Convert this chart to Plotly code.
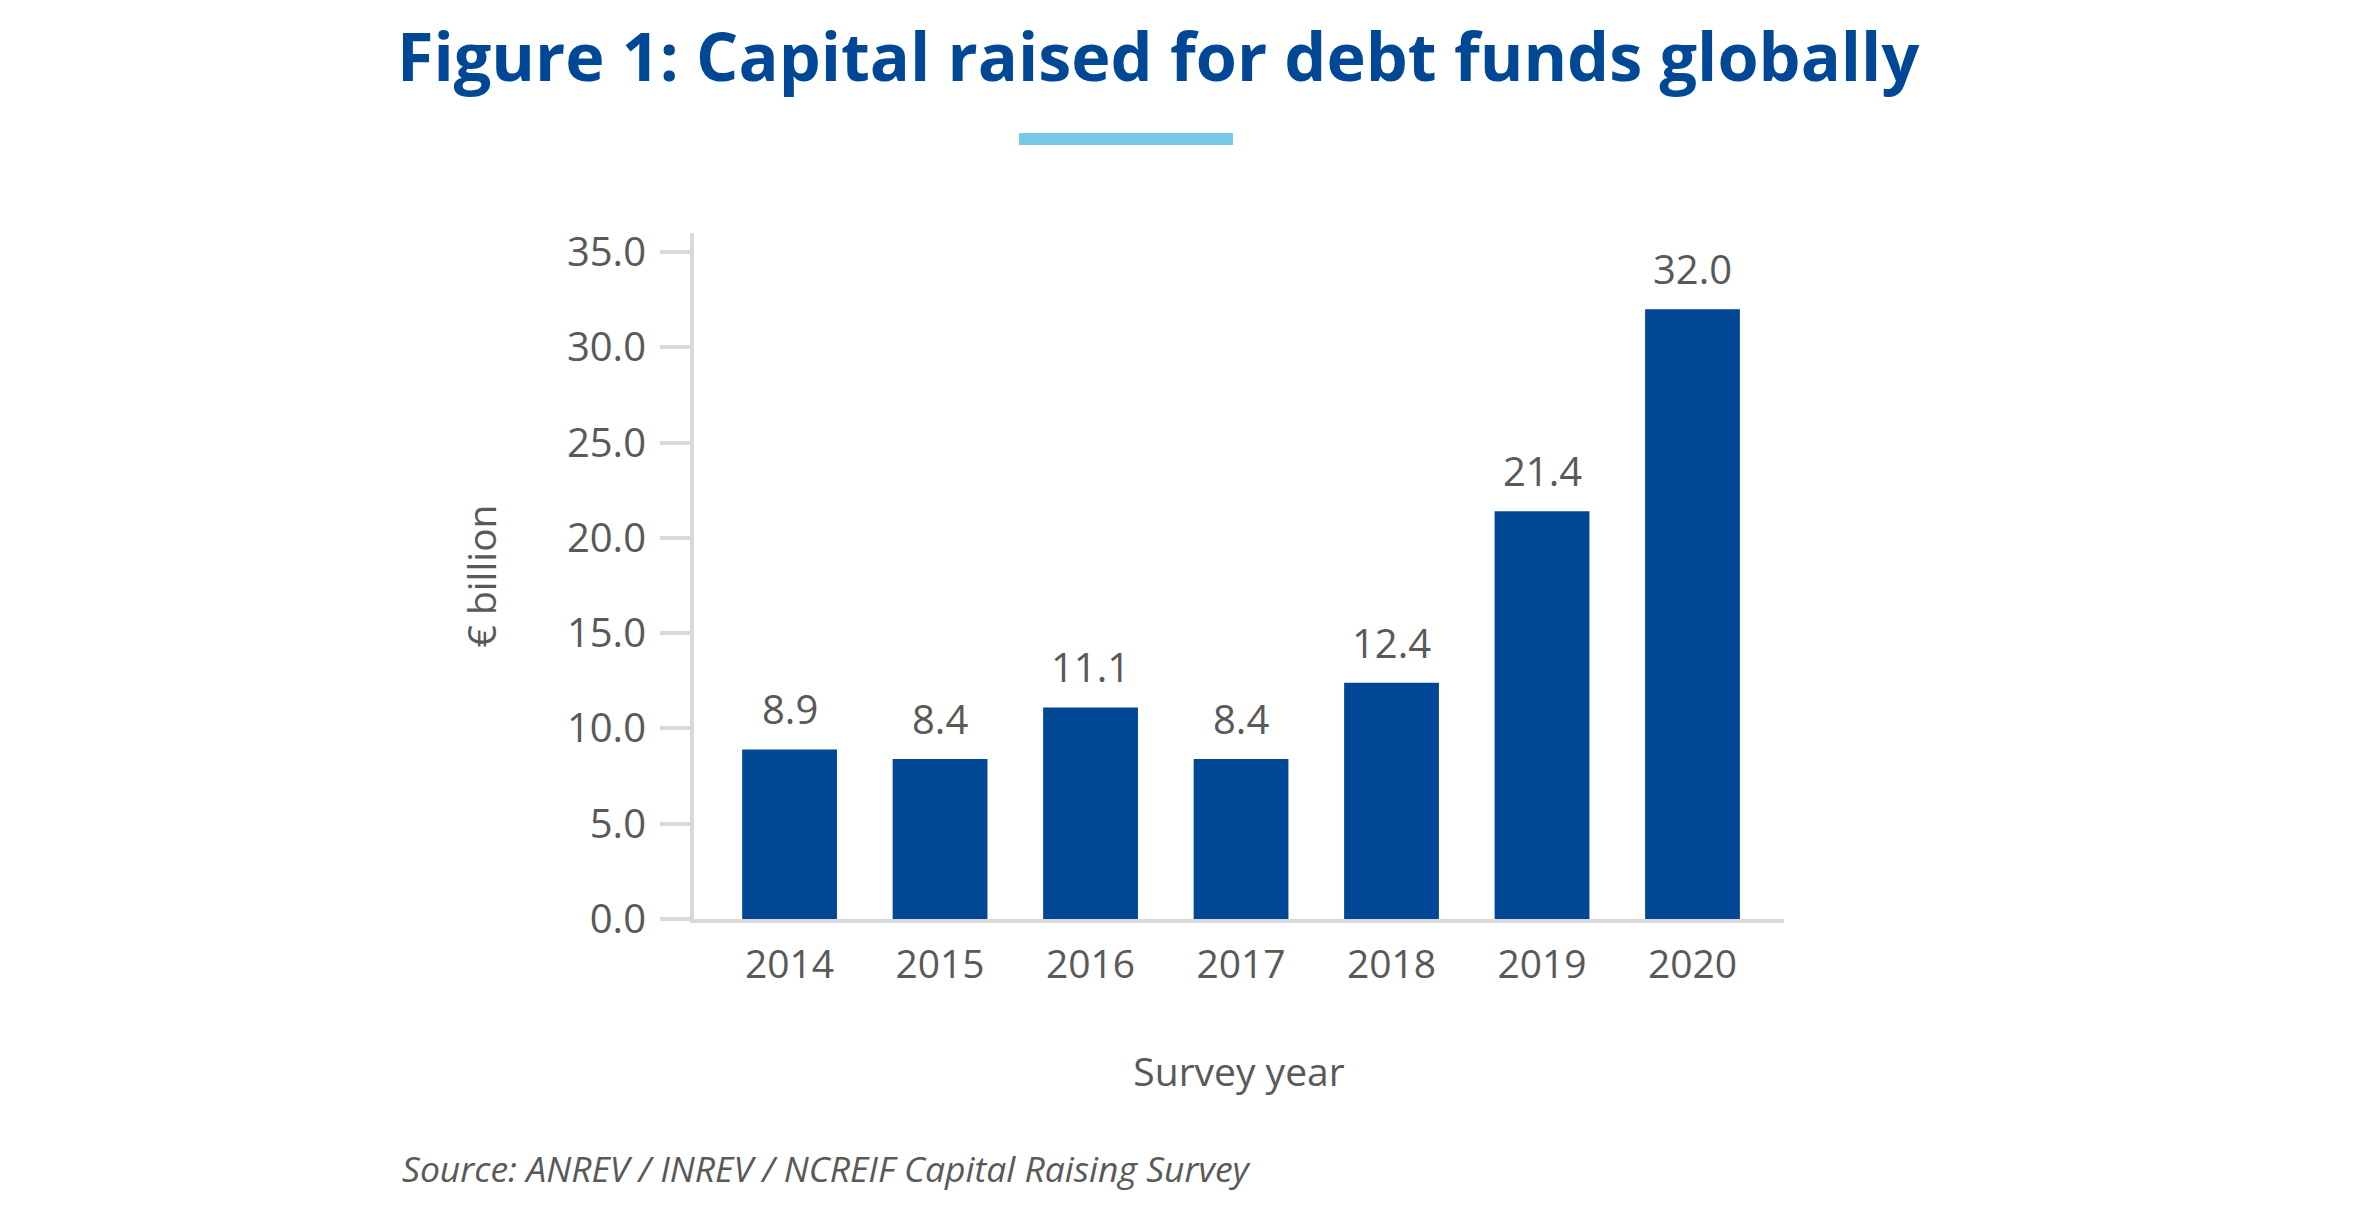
import plotly.graph_objects as go

years = ["2014", "2015", "2016", "2017", "2018", "2019", "2020"]
capital = [8.9, 8.4, 11.1, 8.4, 12.4, 21.4, 32.0]
y_ticks = [0, 5, 10, 15, 20, 25, 30, 35]

title_text = "Figure 1: Capital raised for debt funds globally"
source_text = "Source: ANREV / INREV / NCREIF Capital Raising Survey"

BLUE = "#004896"
GREY_TEXT = "#595959"
GREY_LINE = "#D9D9D9"
FONT = "Open Sans"

W, H = 2368, 1218
OFF = 8  # page body margin
L, R, T, B = 694 - OFF, 584 + OFF, 233 - OFF, 299 + OFF
pw, ph = W - L - R, H - T - B

def px_x(px):
    return (px - OFF - L) / pw

def px_y(py):
    return (H - B - (py - OFF)) / ph

fig = go.Figure()
fig.add_trace(go.Bar(
    x=years, y=capital, marker=dict(color=BLUE, line=dict(width=0)),
    hoverinfo="x+y", showlegend=False,
))

annotations = []
for i, v in enumerate(capital):
    annotations.append(dict(
        x=i, y=v, xref="x", yref="y", text=f"{v:.1f}", showarrow=False,
        yanchor="bottom", yshift=11,
        font=dict(family=FONT, size=40, color=GREY_TEXT),
    ))

annotations.append(dict(
    x=px_x(1158), y=px_y(55), xref="paper", yref="paper", text=f"<b>{title_text}</b>",
    showarrow=False, xanchor="center", yanchor="middle",
    font=dict(family=FONT, size=66.5, color=BLUE),
))
annotations.append(dict(
    x=px_x(400), y=px_y(1168), xref="paper", yref="paper", text=f"<i>{source_text}</i>",
    showarrow=False, xanchor="left", yanchor="middle",
    font=dict(family=FONT, size=35.5, color=GREY_TEXT),
))

fig.update_layout(
    width=W, height=H,
    margin=dict(l=L, r=R, t=T, b=B, autoexpand=False),
    paper_bgcolor="white", plot_bgcolor="white",
    bargap=0.37,
    annotations=annotations,
    shapes=[dict(
        type="rect", xref="paper", yref="paper",
        x0=px_x(1019), x1=px_x(1233), y0=px_y(145), y1=px_y(133),
        fillcolor="#78C8E8", line=dict(width=0),
    )],
    font=dict(family=FONT, color=GREY_TEXT),
)

fig.update_xaxes(
    type="category", range=[-0.635, 6.608],
    showline=True, linewidth=4, linecolor=GREY_LINE,
    ticks="", showgrid=False, zeroline=False,
    ticklabelstandoff=8,
    tickfont=dict(family=FONT, size=39, color=GREY_TEXT),
    title=dict(text="Survey year", font=dict(family=FONT, size=39, color=GREY_TEXT), standoff=72),
)
fig.update_yaxes(
    range=[0, 36], tickvals=y_ticks, tickformat=".1f",
    showline=True, linewidth=4, linecolor=GREY_LINE,
    ticks="outside", ticklen=30, tickwidth=4, tickcolor=GREY_LINE,
    showgrid=False, zeroline=False,
    ticklabelstandoff=6,
    tickfont=dict(family=FONT, size=40, color=GREY_TEXT),
    title=dict(text="€ billion", font=dict(family=FONT, size=39, color=GREY_TEXT), standoff=59),
)

fig.write_html("out.html")
